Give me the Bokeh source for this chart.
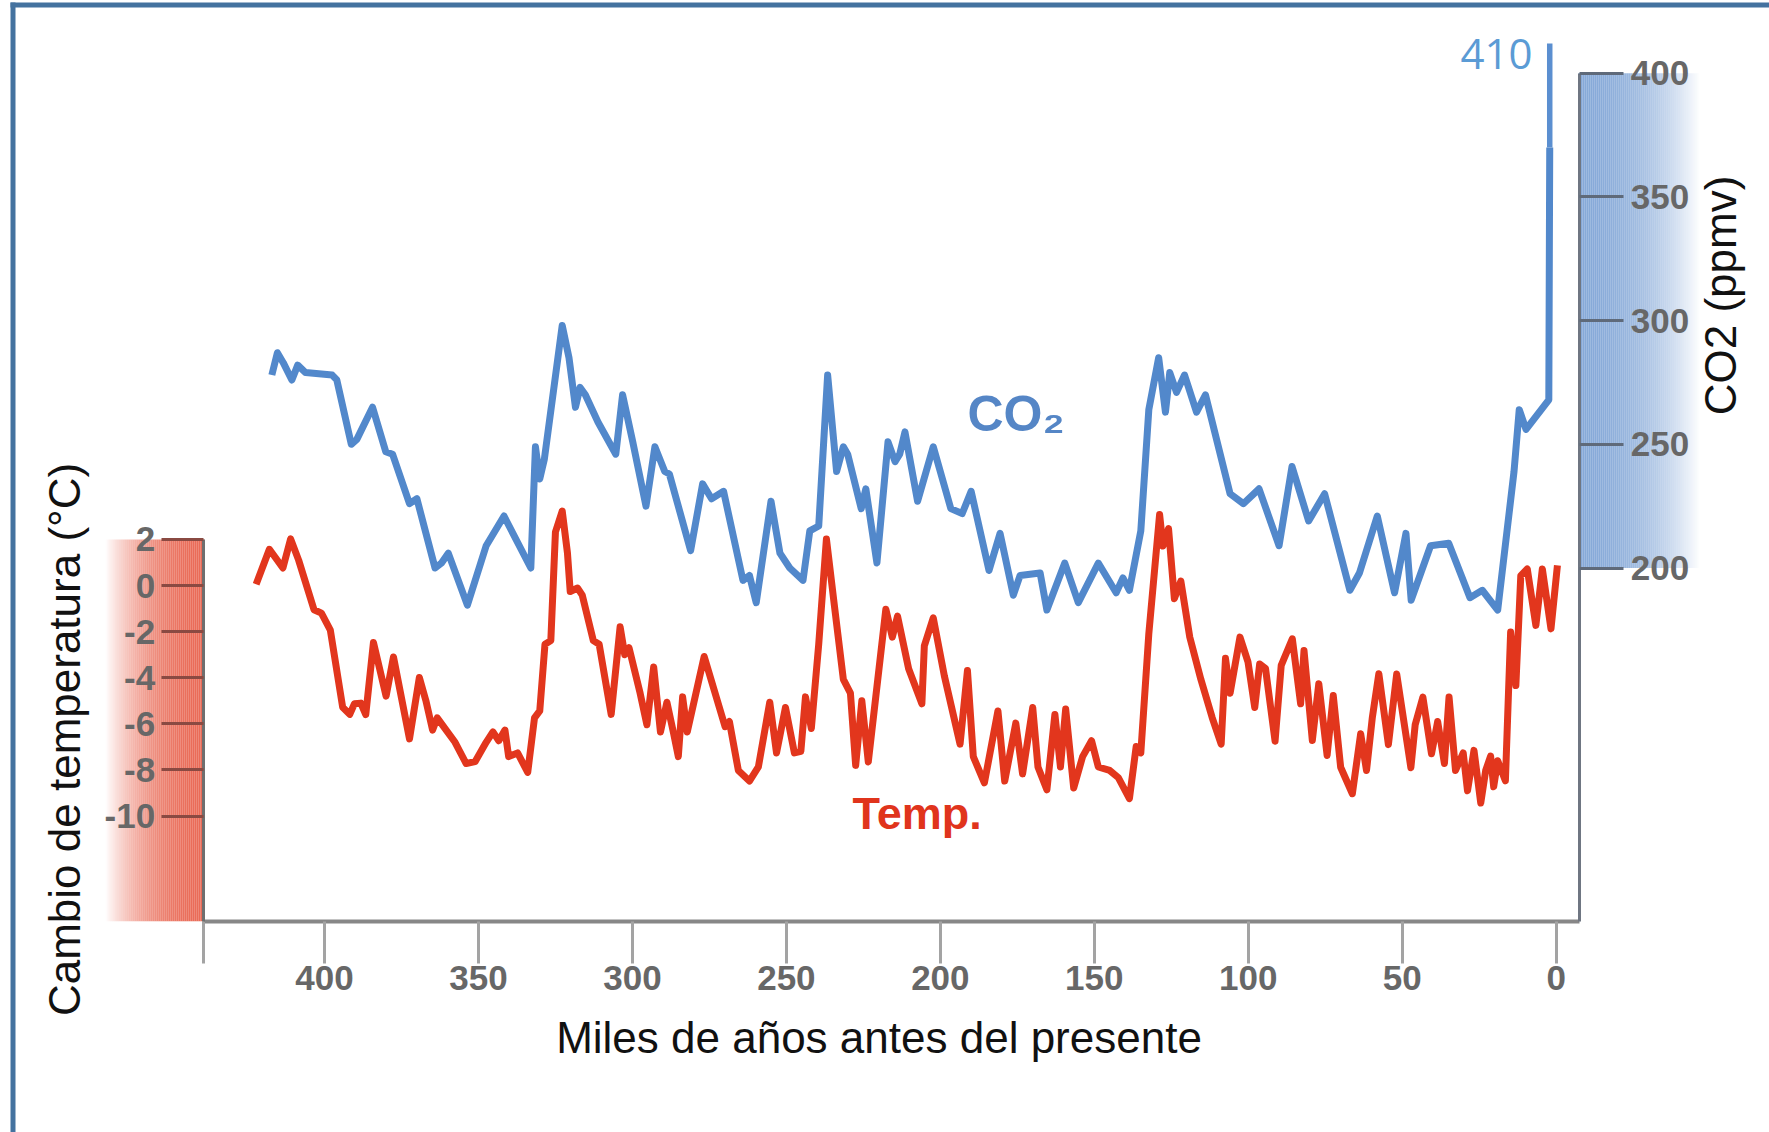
import numpy as np
from bokeh.plotting import figure
from bokeh.models import Range1d, LinearAxis, FixedTicker, ColumnDataSource, PrintfTickFormatter
from bokeh.core.properties import value
from bokeh.embed import file_html
from bokeh.resources import INLINE

# ---------------- data ----------------
co2_age_kyr = [
    417.1, 415.3, 413.4, 410.6, 408.7, 406.2, 397.5, 396.0, 391.3, 389.5,
    384.4, 380.1, 377.9, 372.4, 370.0, 364.1, 362.0, 359.8, 353.6, 347.5,
    341.7, 333.0, 331.5, 330.1, 328.6, 322.8, 320.6, 318.5, 317.0, 315.3,
    311.2, 305.4, 303.2, 299.9, 295.6, 292.7, 289.5, 288.0, 281.1, 277.2,
    274.3, 270.4, 264.1, 262.0, 259.8, 255.0, 252.1, 248.9, 244.6, 242.4,
    239.5, 236.6, 233.7, 231.5, 230.1, 225.7, 224.2, 220.6, 217.0, 214.7,
    213.2, 211.5, 207.4, 202.3, 196.6, 192.9, 190.0, 184.2, 180.6, 176.3,
    174.1, 167.6, 165.4, 159.6, 155.2, 148.7, 142.9, 140.7, 138.6, 134.9,
    132.3, 129.1, 126.9, 125.5, 123.3, 120.7, 116.8, 113.9, 105.9, 101.6,
    96.5, 90.0, 85.8, 80.4, 75.2, 67.0, 63.9, 58.1, 52.5, 48.8,
    47.1, 40.8, 34.9, 28.0, 24.0, 19.0, 13.7, 12.0, 9.8, 2.4,
    2.1,
]
co2_ppmv = [
    278, 287, 283, 276, 282, 279, 278, 276, 250, 252,
    265, 247, 246, 226, 228, 200, 202, 206, 185, 209,
    221, 200, 249, 236, 244, 298, 285, 265, 273, 270,
    259, 246, 270, 251, 225, 249, 239, 238, 207, 234,
    228, 231, 195, 197, 186, 227, 206, 200, 195, 215,
    217, 278, 239, 249, 246, 224, 232, 202, 251, 243,
    246, 255, 227, 249, 224, 222, 231, 199, 214, 189,
    197, 198, 183, 202, 186, 202, 190, 196, 191, 215,
    264, 285, 263, 279, 271, 278, 263, 270, 230, 226,
    232, 209, 241, 219, 230, 191, 198, 221, 190, 214,
    187, 209, 210, 188, 191, 183, 239, 264, 256, 268,
    370,
]
co2_recent_age_kyr = [2.1, 2.1]
co2_recent_ppmv = [370, 412]

temp_age_kyr = [
    422.2, 417.9, 413.5, 411.0, 408.4, 403.4, 401.0, 398.1, 394.1, 391.8,
    390.3, 388.2, 386.6, 384.1, 380.0, 377.6, 372.4, 369.2, 367.1, 364.9,
    363.4, 357.6, 354.0, 351.1, 347.5, 345.3, 343.4, 341.4, 340.2, 337.3,
    334.0, 331.8, 330.1, 328.4, 326.5, 325.0, 322.8, 321.1, 320.2, 317.8,
    316.3, 312.7, 310.8, 306.9, 304.0, 302.5, 301.1, 297.5, 295.3, 293.1,
    290.9, 288.8, 286.6, 285.1, 283.7, 282.2, 276.7, 269.9, 268.5, 265.6,
    262.0, 259.1, 255.4, 253.2, 250.3, 247.4, 245.3, 243.8, 241.9, 239.5,
    237.0, 234.4, 231.5, 229.2, 227.5, 225.5, 223.4, 217.7, 215.6, 213.9,
    210.3, 206.0, 205.2, 202.3, 198.7, 193.6, 191.2, 189.3, 185.7, 181.3,
    179.1, 175.5, 173.3, 170.0, 168.3, 165.4, 162.8, 161.0, 159.3, 156.7,
    153.8, 150.9, 148.7, 145.0, 142.2, 138.6, 136.4, 134.9, 132.3, 128.8,
    127.7, 125.9, 124.0, 121.9, 119.0, 115.4, 111.7, 108.8, 107.4, 105.9,
    102.7, 100.1, 97.9, 96.3, 94.4, 91.3, 89.3, 85.7, 83.0, 81.9,
    79.2, 77.1, 74.4, 72.4, 70.0, 66.2, 63.5, 61.6, 59.7, 57.6,
    54.5, 51.8, 47.2, 45.8, 43.3, 40.5, 38.5, 36.3, 34.8, 32.7,
    30.2, 28.8, 26.7, 24.5, 22.9, 21.3, 20.3, 19.0, 16.5, 14.8,
    13.1, 11.5, 9.4, 6.6, 4.5, 1.7, -0.4,
]
temp_change_c = [
    0.05, 1.57, 0.76, 2.02, 1.10, -1.05, -1.20, -1.94, -5.28, -5.59,
    -5.13, -5.10, -5.60, -2.47, -4.80, -3.10, -6.65, -3.99, -4.98, -6.27,
    -5.74, -6.80, -7.72, -7.64, -6.80, -6.35, -6.73, -6.27, -7.42, -7.26,
    -8.10, -5.74, -5.44, -2.55, -2.39, 2.32, 3.23, 1.41, -0.26, -0.11,
    -0.42, -2.39, -2.55, -5.59, -1.79, -3.00, -2.70, -4.67, -6.04, -3.53,
    -6.35, -5.06, -6.43, -7.42, -4.83, -6.35, -3.08, -6.12, -5.90, -8.02,
    -8.48, -7.87, -5.06, -7.26, -5.29, -7.26, -7.19, -4.83, -6.20, -2.55,
    2.02, -0.88, -4.07, -4.67, -7.80, -5.00, -7.65, -1.03, -2.24, -1.33,
    -3.61, -5.13, -2.62, -1.40, -3.92, -6.88, -3.69, -7.42, -8.56, -5.44,
    -8.48, -5.97, -8.17, -5.29, -7.87, -8.86, -5.59, -7.87, -5.36, -8.78,
    -7.42, -6.73, -7.87, -8.02, -8.33, -9.24, -6.98, -7.26, -2.09, 3.08,
    1.71, 2.47, -0.57, 0.19, -2.24, -4.07, -5.74, -6.88, -3.16, -4.67,
    -2.24, -3.31, -5.29, -3.40, -3.60, -6.75, -3.46, -2.31, -5.13, -2.82,
    -6.72, -4.26, -7.37, -4.77, -7.88, -9.03, -6.43, -8.02, -5.71, -3.83,
    -6.90, -3.84, -7.90, -6.04, -4.84, -7.30, -5.90, -7.72, -4.84, -8.02,
    -7.26, -8.90, -7.15, -9.43, -8.02, -7.40, -8.73, -7.60, -8.47, -2.02,
    -4.34, 0.43, 0.72, -1.73, 0.72, -1.88, 0.87,
]

x_tick_values = [400, 350, 300, 250, 200, 150, 100, 50, 0]
temp_tick_values = [2, 0, -2, -4, -6, -8, -10]
co2_tick_values = [200, 250, 300, 350, 400]

# ---------------- layout calibration (page pixels) ----------------
W, H = 1769, 1132
OFF = 0
X_AT_400, X_AT_0 = 324.0, 1555.7
PX_KYR = (X_AT_0 - X_AT_400) / 400.0
Y_AT_T0, PX_DEG = 585.0, 23.06
Y_AT_C200, PX_PPM = 567.5, 2.474
FRAME_L, FRAME_R, FRAME_B = 202.7, 1579.3, 920.7
BASE_SHIFT = 0.4   # text glyph baseline correction, in em


def kyr(px):
    return 400.0 - (px - X_AT_400) / PX_KYR


def degc(py):
    return (Y_AT_T0 - py) / PX_DEG


def ppm(py):
    return 200.0 + (Y_AT_C200 - py) / PX_PPM


LABEL_FONT = "Liberation Sans"
TICK_GRAY = "#676767"

p = figure(width=W, height=H,
           x_range=Range1d(kyr(OFF), kyr(OFF + W)),
           y_range=Range1d(degc(OFF + H), degc(OFF)),
           output_backend="svg", toolbar_location=None, min_border=0)
p.extra_y_ranges = {"co2": Range1d(ppm(OFF + H), ppm(OFF))}
p.outline_line_color = None
p.xgrid.visible = False
p.ygrid.visible = False
p.background_fill_color = "white"
p.border_fill_color = "white"

# ---------------- gradient bands behind the two y axes ----------------
red_edges = np.arange(104, 205, 2, dtype=float)
rc = (red_edges[:-1] + red_edges[1:]) / 2
red_alpha = np.clip(0.8 * (1 - ((FRAME_L - rc) / 98.0) ** 2), 0, 1)
red_src = ColumnDataSource(dict(
    left=[kyr(v) for v in red_edges[:-1]], right=[kyr(v) for v in red_edges[1:]],
    top=[2.0] * len(rc), bottom=[degc(FRAME_B)] * len(rc), alpha=red_alpha))
p.quad(left="left", right="right", top="top", bottom="bottom", source=red_src,
       fill_color="#e4462d", fill_alpha="alpha", line_color=None)

blue_edges = np.arange(1578, 1702, 2, dtype=float)
bc = (blue_edges[:-1] + blue_edges[1:]) / 2
blue_alpha = np.clip(0.78 * (1 - ((bc - FRAME_R) / 120.0) ** 2), 0, 1)
blue_src = ColumnDataSource(dict(
    left=[kyr(v) for v in blue_edges[:-1]], right=[kyr(v) for v in blue_edges[1:]],
    top=[400.0] * len(bc), bottom=[200.0] * len(bc), alpha=blue_alpha))
p.quad(left="left", right="right", top="top", bottom="bottom", source=blue_src,
       y_range_name="co2", fill_color="#6491cd", fill_alpha="alpha", line_color=None)

# ---------------- series ----------------
p.line(co2_age_kyr, co2_ppmv, y_range_name="co2", line_color="#5288cb",
       line_width=7, line_join="round")
p.line(co2_recent_age_kyr, co2_recent_ppmv, y_range_name="co2", line_color="#5b8fd0",
       line_width=5.5)
p.line(temp_age_kyr, temp_change_c, line_color="#e2361d", line_width=7,
       line_join="round")

# ---------------- axes ----------------
xa = p.xaxis[0]
xa.fixed_location = degc(FRAME_B)
xa.bounds = (kyr(FRAME_R), kyr(FRAME_L))
xa.ticker = FixedTicker(ticks=x_tick_values, minor_ticks=[kyr(FRAME_L) - 0.02])
xa.formatter = PrintfTickFormatter(format="%d")
xa.axis_line_color = "#878787"
xa.axis_line_width = 4
xa.major_tick_line_color = "#a3a3a3"
xa.major_tick_line_width = 3
xa.major_tick_in = 0
xa.major_tick_out = 42
xa.minor_tick_line_color = "#a3a3a3"
xa.minor_tick_line_width = 3
xa.minor_tick_in = 0
xa.minor_tick_out = 42
xa.major_label_text_font = LABEL_FONT
xa.major_label_text_font_style = "bold"
xa.major_label_text_font_size = "35px"
xa.major_label_text_color = TICK_GRAY
xa.major_label_standoff = 3

ya = p.yaxis[0]
ya.fixed_location = kyr(FRAME_L)
ya.bounds = (degc(FRAME_B), 2.0)
ya.ticker = FixedTicker(ticks=temp_tick_values)
ya.formatter = PrintfTickFormatter(format="%d")
ya.axis_line_color = "#6f6f6f"
ya.axis_line_width = 3
ya.major_tick_line_color = "#8a4a42"
ya.major_tick_line_width = 3
ya.major_tick_in = 0
ya.major_tick_out = 42
ya.minor_tick_line_color = None
ya.major_label_text_font = LABEL_FONT
ya.major_label_text_font_style = "bold"
ya.major_label_text_font_size = "35px"
ya.major_label_text_color = TICK_GRAY
ya.major_label_standoff = 6

ca = LinearAxis(y_range_name="co2")
ca.fixed_location = kyr(FRAME_R)
ca.bounds = (ppm(FRAME_B), 400.0)
ca.ticker = FixedTicker(ticks=co2_tick_values)
ca.formatter = PrintfTickFormatter(format="%d")
ca.axis_line_color = "#6f7682"
ca.axis_line_width = 3
ca.major_tick_line_color = "#5f6a7a"
ca.major_tick_line_width = 3
ca.major_tick_in = 0
ca.major_tick_out = 44
ca.minor_tick_line_color = None
ca.major_label_text_font = LABEL_FONT
ca.major_label_text_font_style = "bold"
ca.major_label_text_font_size = "35px"
ca.major_label_text_color = TICK_GRAY
ca.major_label_standoff = 7
p.add_layout(ca, "right")


# ---------------- titles and in-plot labels ----------------
def label(px, py, txt, size, font, color, align="left", angle=0.0, bold=False):
    # (px, py) = page position of the text's baseline anchor
    shift = BASE_SHIFT * size
    if angle:
        px = px - shift
    else:
        py = py - shift
    p.text(x=[kyr(px)], y=[degc(py)], text=[txt], angle=angle,
           text_align=align, text_baseline="alphabetic",
           text_font=value(font), text_font_style="bold" if bold else "normal",
           text_font_size=f"{size}px", text_color=color)


label(878.5, 1055, "Miles de años antes del presente", 44, "Liberation Sans", "#111111", "center")
label(82, 739, "Cambio de temperatura (°C)", 44, "Liberation Sans", "#111111", "center", np.pi / 2)
label(1738, 295, "CO2 (ppmv)", 44, "Liberation Sans", "#111111", "center", np.pi / 2)
label(967, 433, "CO₂", 50, LABEL_FONT, "#5586c6", "left", bold=True)
label(852, 831.4, "Temp.", 45, LABEL_FONT, "#e0341c", "left", bold=True)
label(1532, 70, "410", 42, "Open Sans", "#5b9bd5", "right")

# ---------------- outer picture border ----------------
p.segment(x0=[kyr(12.5), kyr(10)], y0=[degc(2), degc(4.5)],
          x1=[kyr(12.5), kyr(W)], y1=[degc(H), degc(4.5)],
          line_color="#44729f", line_width=5)

open("out.html", "w").write(file_html(p, INLINE))
